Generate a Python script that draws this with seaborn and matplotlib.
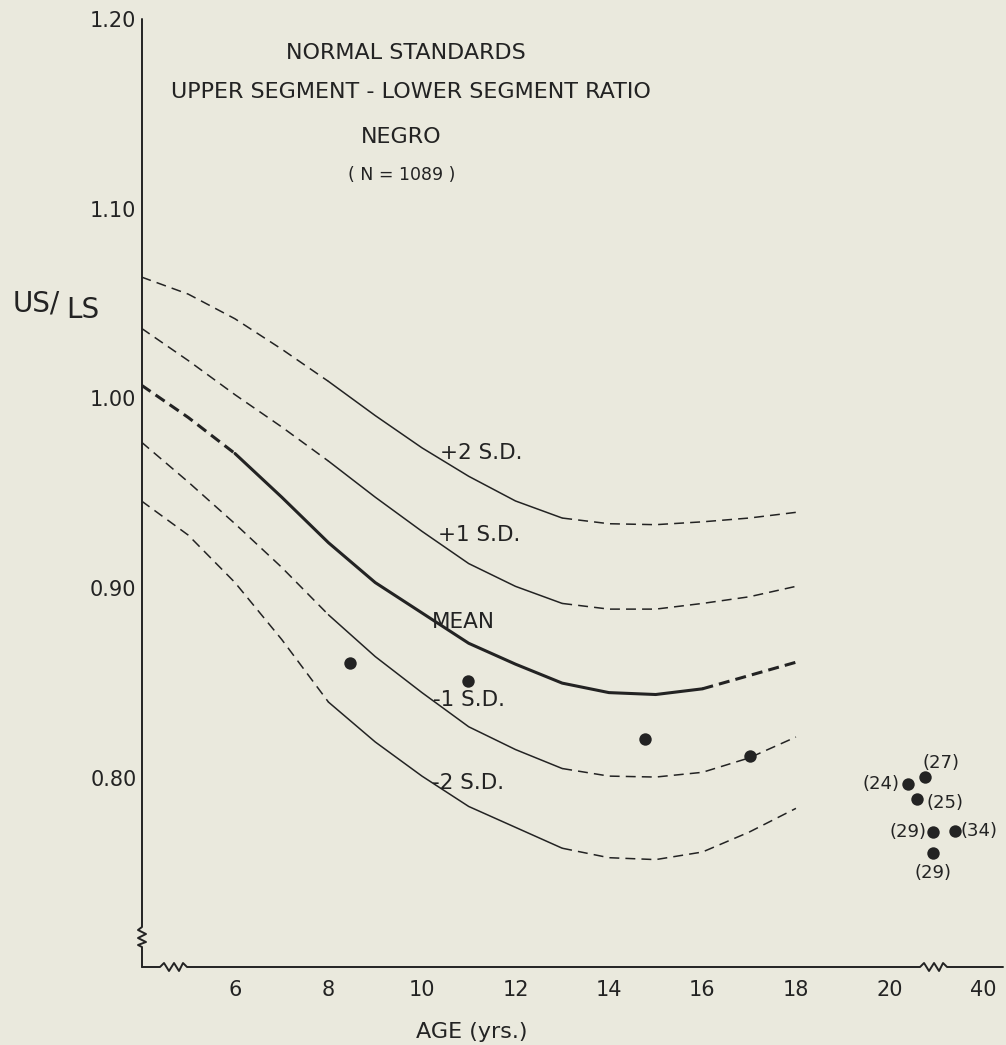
import numpy as np
import pandas as pd
import matplotlib
matplotlib.use("Agg")
import matplotlib.pyplot as plt
import seaborn as sns

# ---------------- data ----------------
age = [4, 5, 6, 7, 8, 9, 10, 11, 12, 13, 14, 15, 16, 17, 18]
plus2_sd = [1.064, 1.055, 1.042, 1.026, 1.009, 0.991, 0.974, 0.959, 0.946, 0.937, 0.934, 0.9335, 0.935, 0.937, 0.940]
plus1_sd = [1.037, 1.020, 1.002, 0.985, 0.967, 0.948, 0.930, 0.913, 0.901, 0.892, 0.889, 0.889, 0.892, 0.8955, 0.901]
mean_ = [1.007, 0.990, 0.971, 0.948, 0.924, 0.903, 0.887, 0.871, 0.860, 0.850, 0.845, 0.844, 0.847, 0.854, 0.861]
minus1_sd = [0.977, 0.956, 0.934, 0.911, 0.886, 0.864, 0.845, 0.827, 0.815, 0.805, 0.801, 0.8005, 0.803, 0.8106, 0.8216]
minus2_sd = [0.946, 0.928, 0.903, 0.873, 0.840, 0.819, 0.801, 0.785, 0.774, 0.763, 0.758, 0.757, 0.761, 0.7715, 0.784]

curve_names = ["+2 S.D.", "+1 S.D.", "MEAN", "-1 S.D.", "-2 S.D."]

# patients (children)
child_age = [8.45, 10.98, 14.77, 17.02]
child_ratio = [0.8606, 0.851, 0.8206, 0.8116]

# adults, placed on the compressed 20-40 section of the axis
adult_pos = [20.40, 20.76, 20.60, 20.94, 21.40, 20.94]
adult_ratio = [0.797, 0.8007, 0.789, 0.7717, 0.7722, 0.7606]
adult_labels = ["(24)", "(27)", "(25)", "(29)", "(34)", "(29)"]

x_tick_pos = [6, 8, 10, 12, 14, 16, 18, 20, 22]
x_tick_labels = ["6", "8", "10", "12", "14", "16", "18", "20", "40"]
y_tick_vals = [0.80, 0.90, 1.00, 1.10, 1.20]
y_tick_labels = ["0.80", "0.90", "1.00", "1.10", "1.20"]

title_lines = ["NORMAL STANDARDS", "UPPER SEGMENT - LOWER SEGMENT RATIO", "NEGRO", "( N = 1089 )"]

# ---------------- style ----------------
BG = "#EAE9DD"
INK = "#232323"
sns.set_style("white", {"axes.facecolor": BG, "figure.facecolor": BG})
plt.rcParams["font.family"] = ["DejaVu Sans"]
plt.rcParams["text.color"] = INK

# solid-section limits for each curve (start, end)
solid_range = {"+2 S.D.": (8, 13), "+1 S.D.": (8, 13), "MEAN": (6, 16),
               "-1 S.D.": (8, 13), "-2 S.D.": (8, 13)}

rows = []
for name, vals in zip(curve_names, [plus2_sd, plus1_sd, mean_, minus1_sd, minus2_sd]):
    for a, v in zip(age, vals):
        rows.append({"curve": name, "age": a, "ratio": v})
df = pd.DataFrame(rows)

fig = plt.figure(figsize=(10.06, 10.45), dpi=100)
ax = fig.add_axes([0.14115, 0.07464, 0.8559, 0.9072])
ax.set_facecolor(BG)

for name in curve_names:
    sub = df[df["curve"] == name]
    s0, s1 = solid_range[name]
    lw = 2.2 if name == "MEAN" else 1.1
    dash = (0, (3.6, 2.0)) if name == "MEAN" else (0, (6.5, 4.0))
    parts = [(sub[sub["age"] <= s0], dash),
             (sub[(sub["age"] >= s0) & (sub["age"] <= s1)], "-"),
             (sub[sub["age"] >= s1], dash)]
    for part, ls in parts:
        sns.lineplot(data=part, x="age", y="ratio", ax=ax, color=INK, lw=lw,
                     linestyle=ls, estimator=None, sort=True, legend=False,
                     solid_joinstyle="round")

sns.scatterplot(x=child_age, y=child_ratio, ax=ax, color=INK, s=80, linewidth=0, zorder=5)
sns.scatterplot(x=adult_pos, y=adult_ratio, ax=ax, color=INK, s=80, linewidth=0, zorder=5)

# adult age labels
label_offsets = [(-6, 0, "right", "center"), (-2, 10, "left", "center"),
                 (6.5, -3, "left", "center"), (-5, 0, "right", "center"),
                 (4, 0, "left", "center"), (0, -14.5, "center", "center")]
for x, y, t, (dx, dy, ha, va) in zip(adult_pos, adult_ratio, adult_labels, label_offsets):
    ax.annotate(t, (x, y), xytext=(dx, dy), textcoords="offset points",
                ha=ha, va=va, fontsize=13, color=INK, annotation_clip=False)

# curve labels
curve_label_pos = {"+2 S.D.": (10.38, 0.9713), "+1 S.D.": (10.34, 0.928),
                   "MEAN": (10.21, 0.8822), "-1 S.D.": (10.24, 0.8411),
                   "-2 S.D.": (10.21, 0.7974)}
for name in curve_names:
    x, y = curve_label_pos[name]
    ax.text(x, y, name, ha="left", va="center", fontsize=15.5, color=INK)

# title block
title_pos = [(9.66, 1.1821, 16), (9.76, 1.1615, 16), (9.55, 1.1378, 16), (9.57, 1.1178, 12.5)]
for t, (x, y, fs) in zip(title_lines, title_pos):
    ax.text(x, y, t, ha="center", va="center", fontsize=fs, color=INK)

# axes limits & ticks
ax.set_xlim(4.011, 22.43)
ax.set_ylim(0.7004, 1.20)
ax.set_xticks(x_tick_pos)
ax.set_xticklabels(x_tick_labels)
ax.set_yticks(y_tick_vals)
ax.set_yticklabels(y_tick_labels)
ax.tick_params(axis="both", direction="in", length=7, width=1.2, color=INK,
               labelcolor=INK, labelsize=15)
ax.tick_params(axis="x", pad=9)
ax.tick_params(axis="y", pad=4)
ax.set_xlabel("")
ax.set_ylabel("")
for sp in ax.spines.values():
    sp.set_visible(False)

# axis lines with break marks (decoration in axes coordinates)
W, H = 861.0, 948.0


def xzig(px0):
    offs = [(0, 0), (4, 4), (9, -4), (14, 4), (19, -4), (23, 4), (27, 0)]
    return [((px0 + dx) / W, dy / H) for dx, dy in offs]


xpts = [(0.0, 0.0)] + xzig(160 - 142) + xzig(920 - 142) + [(1.0, 0.0)]
ax.plot([p[0] for p in xpts], [p[1] for p in xpts], transform=ax.transAxes,
        color=INK, lw=1.4, clip_on=False, solid_joinstyle="round")

yzig_offs = [(0, 0), (-4, 3), (4, 7), (-4, 11), (4, 15), (-4, 18), (0, 20)]
ypts = [(0.0, 1.0)] + [(dx / W, (40 - dy) / H) for dx, dy in yzig_offs] + [(0.0, 0.0)]
ax.plot([p[0] for p in ypts], [p[1] for p in ypts], transform=ax.transAxes,
        color=INK, lw=1.4, clip_on=False, solid_joinstyle="round")

# axis titles
ax.text(11.07, 0.7004 - 65 / 1897.5, "AGE (yrs.)", ha="center", va="center",
        fontsize=16, color=INK, clip_on=False)
fig.text(13 / 1006, (1045 - 312) / 1045, "US/", ha="left", va="baseline", fontsize=20, color=INK)
fig.text(66 / 1006, (1045 - 318) / 1045, "LS", ha="left", va="baseline", fontsize=20, color=INK)

fig.savefig("out.png", dpi=100, facecolor=BG)
